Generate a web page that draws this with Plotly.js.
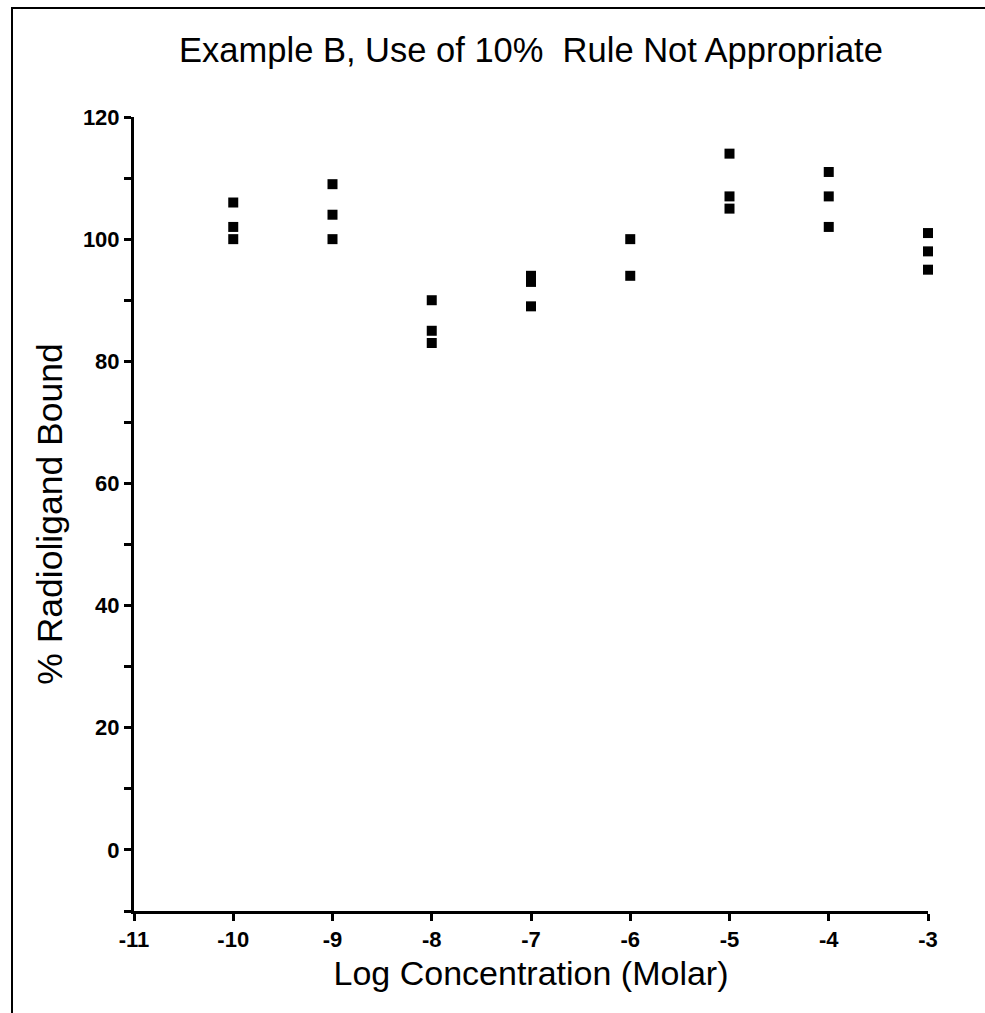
<!DOCTYPE html>
<html>
<head>
<meta charset="utf-8">
<script src="https://cdn.plot.ly/plotly-3.0.1.min.js"></script>
<style>
  html, body { margin: 0; padding: 0; background: #fff; }
  #wrap { position: relative; width: 985px; height: 1013px; overflow: hidden; }
  #chart { position: absolute; left: 0; top: 0; width: 985px; height: 1013px; }
  #frame { position: absolute; left: 11px; top: 7px; width: 990px; height: 1020px;
           border-left: 2px solid #000; border-top: 2px solid #000; pointer-events: none; }
</style>
</head>
<body>
<div id="wrap">
  <div id="chart"></div>
  <div id="frame"></div>
</div>
<script>
// Log concentration (Molar) of each replicate
const logConc = [-10, -10, -10,
                 -9, -9, -9,
                 -8, -8, -8,
                 -7, -7, -7,
                 -6, -6,
                 -5, -5, -5,
                 -4, -4, -4,
                 -3, -3, -3];
// % Radioligand bound of each replicate
const pctBound = [106, 102, 100,
                  109, 104, 100,
                  90, 85, 83,
                  94, 93, 89,
                  100, 94,
                  114, 107, 105,
                  111, 107, 102,
                  101, 98, 95];
const xTicks = [-11, -10, -9, -8, -7, -6, -5, -4, -3];
const yTicks = [0, 20, 40, 60, 80, 100, 120];

const chartTitle = 'Example B, Use of 10%  Rule Not Appropriate';
const xTitle = 'Log Concentration (Molar)';
const yTitle = '% Radioligand Bound';

const trace = {
  x: logConc,
  y: pctBound,
  type: 'scatter',
  mode: 'markers',
  cliponaxis: false,
  marker: { symbol: 'square', size: 10, color: '#000' },
  hoverinfo: 'x+y'
};

const fam = 'Liberation Sans, Arial, sans-serif';
const tickFont = { family: fam, size: 22, color: '#000', weight: 'bold' };

const layout = {
  width: 985,
  height: 1013,
  margin: { l: 134, r: 57, t: 117, b: 102 },
  paper_bgcolor: '#fff',
  plot_bgcolor: '#fff',
  showlegend: false,
  title: {
    text: chartTitle,
    font: { family: fam, size: 34.5, color: '#000' },
    x: 0.5, xanchor: 'center', xref: 'paper',
    y: 1 - 50 / 1013, yanchor: 'middle', yref: 'container'
  },
  xaxis: {
    range: [-11, -3],
    tickvals: xTicks,
    ticktext: xTicks.map(String),
    showline: true, linecolor: '#000', linewidth: 3,
    ticks: 'outside', ticklen: 7, tickwidth: 3, tickcolor: '#000',
    showgrid: false, zeroline: false,
    tickfont: tickFont,
    title: { text: xTitle, font: { family: fam, size: 34, color: '#000' }, standoff: 10 }
  },
  yaxis: {
    range: [-10, 120],
    tickvals: yTicks,
    ticktext: yTicks.map(String),
    showline: true, linecolor: '#000', linewidth: 3,
    ticks: 'outside', ticklen: 7, tickwidth: 3, tickcolor: '#000',
    minor: { dtick: 10, tick0: 0, ticks: 'outside', ticklen: 7, tickwidth: 3, tickcolor: '#000' },
    showgrid: false, zeroline: false,
    tickfont: tickFont,
    title: { text: yTitle, font: { family: fam, size: 35.5, color: '#000' }, standoff: 10 }
  }
};

Plotly.newPlot('chart', [trace], layout, { displayModeBar: false, staticPlot: true });
</script>
</body>
</html>
